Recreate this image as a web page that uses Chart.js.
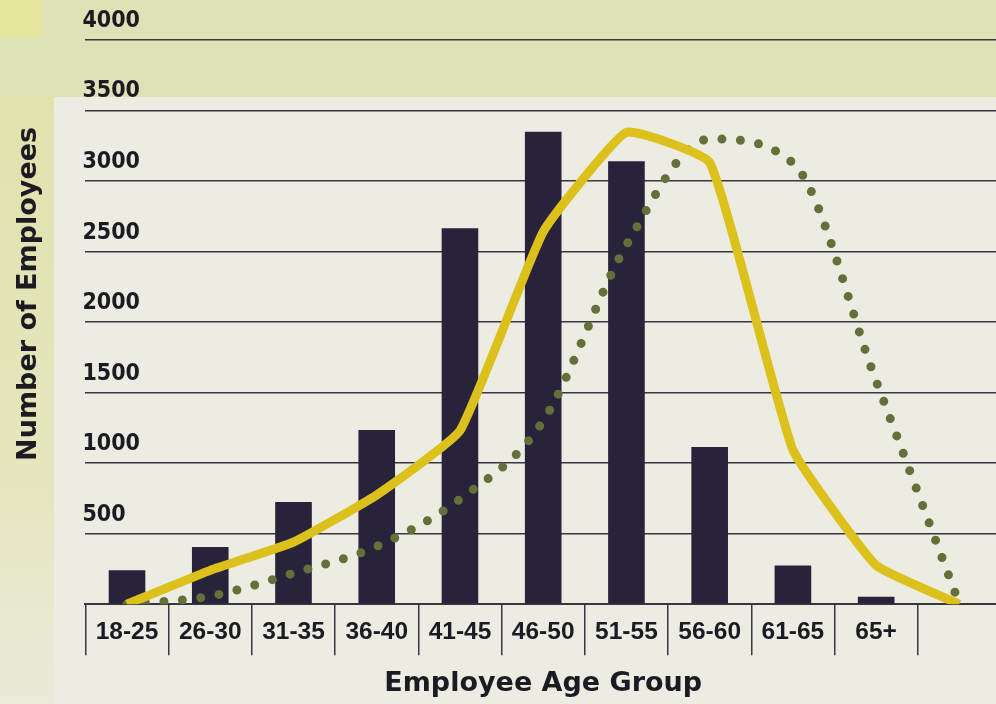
<!DOCTYPE html>
<html>
<head>
<meta charset="utf-8">
<script src="https://cdn.jsdelivr.net/npm/chart.js@4.4.1/dist/chart.umd.min.js"></script>
<style>
    html, body { margin: 0; padding: 0; width: 996px; height: 704px; overflow: hidden; }
    .wrap {
        position: relative;
        width: 1005px;
        height: 704px;
        background:
            linear-gradient(#e5e59e, #e5e59e) 0 0 / 42px 37px no-repeat,
            linear-gradient(to bottom, #e1e2ac, #e5e6bf 65%, #eaeadb) 0 97px / 54px 607px no-repeat,
            linear-gradient(#dfe1b7, #dfe1b7) 0 0 / 100% 97px no-repeat,
            #edece2;
    }
</style>
</head>
<body>
<div class="wrap"><canvas id="ageChart"></canvas></div>
<script>
// Employee age distribution
const ageGroups = ['18-25', '26-30', '31-35', '36-40', '41-45', '46-50', '51-55', '56-60', '61-65', '65+', ''];
const employees = [240, 405, 725, 1235, 2665, 3350, 3140, 1115, 275, 52, null];
const solidCurve = [0, 240, 440, 775, 1230, 2640, 3345, 3132, 1095, 275, 0];
const dottedCurve = [0, 57, 220, 410, 745, 1300, 2546, 3298, 3128, 1582, 0];
const yTicks = [0, 500, 1000, 1500, 2000, 2500, 3000, 3500, 4000];

const colors = {
    bar: '#28223a',
    gold: '#dcc11c',
    olive: '#64703a',
    ink: '#1c1a22',
    grid: '#3a3540'
};

// leading spaces nudge the rotated title up the axis, as in the original
const yTitle = '\u00a0'.repeat(6) + 'Number of Employees';

new Chart(document.getElementById('ageChart'), {
    type: 'bar',
    data: {
        labels: ageGroups,
        datasets: [
            {
                type: 'line',
                label: 'Solid',
                data: solidCurve,
                borderColor: colors.gold,
                borderWidth: 9,
                tension: 0.12,
                pointRadius: 0,
                fill: false,
                order: 1
            },
            {
                type: 'line',
                label: 'Dotted',
                data: dottedCurve,
                borderColor: colors.olive,
                borderWidth: 9,
                borderDash: [0, 18.5],
                borderCapStyle: 'round',
                cubicInterpolationMode: 'monotone',
                pointRadius: 0,
                fill: false,
                order: 2
            },
            {
                label: 'Employees',
                data: employees,
                backgroundColor: colors.bar,
                barPercentage: 0.44,
                categoryPercentage: 1,
                order: 3
            }
        ]
    },
    options: {
        responsive: true,
        maintainAspectRatio: false,
        animation: false,
        layout: { padding: { top: 40, left: 13, right: 4, bottom: 4 } },
        plugins: {
            legend: { display: false },
            tooltip: { enabled: false }
        },
        scales: {
            x: {
                grid: {
                    drawOnChartArea: false,
                    drawTicks: true,
                    tickLength: 51,
                    color: colors.grid,
                    lineWidth: 1.5
                },
                border: { display: true, color: colors.grid, width: 2 },
                ticks: {
                    color: colors.ink,
                    font: { family: "'Liberation Sans', sans-serif", weight: 'bold', size: 24.5 },
                    padding: -38,
                    maxRotation: 0,
                    autoSkip: false
                },
                title: {
                    display: true,
                    text: 'Employee Age Group',
                    color: colors.ink,
                    font: { family: "'DejaVu Sans', sans-serif", weight: 'bold', size: 27 },
                    padding: { top: 59, bottom: 0 }
                }
            },
            y: {
                min: 0,
                max: 4000,
                afterBuildTicks: axis => { axis.ticks = yTicks.map(v => ({ value: v })); },
                grid: { color: colors.grid, lineWidth: 1.6, drawTicks: false },
                border: { display: false },
                ticks: {
                    mirror: true,
                    padding: -3,
                    labelOffset: -19,
                    color: colors.ink,
                    font: { family: "'DejaVu Sans Condensed', 'DejaVu Sans', sans-serif", weight: 'bold', size: 23 },
                    callback: v => v === 0 ? '' : v
                },
                title: {
                    display: true,
                    text: yTitle,
                    color: colors.ink,
                    font: { family: "'DejaVu Sans', sans-serif", weight: 'bold', size: 27 },
                    padding: { top: 0, bottom: 46 }
                }
            }
        }
    }
});
</script>
</body>
</html>
